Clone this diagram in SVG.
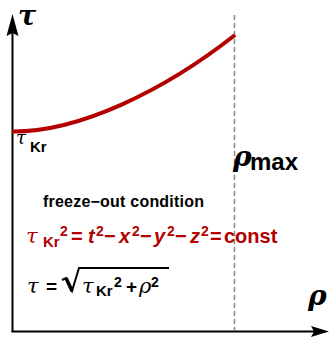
<svg xmlns="http://www.w3.org/2000/svg" width="329" height="338" viewBox="0 0 329 338">
<style>
.ax{stroke:#000;stroke-width:2;fill:none}
.dash{stroke:#888;stroke-width:1.5;stroke-dasharray:5,3;fill:none}
.curve{stroke:#b30000;stroke-width:4;fill:none}
.gk{font-family:"DejaVu Serif","Liberation Serif",serif;font-style:italic}
.sans{font-family:"Liberation Sans",Arial,sans-serif;font-weight:bold}
.red{fill:#b30000}
</style>
<rect width="329" height="338" fill="#fff"/>
<g id="connectors">
<line class="ax" x1="12.5" y1="332" x2="12.5" y2="30"/>
<polygon points="12.5,14 18.5,36 12.5,33 6.5,36" fill="#000"/>
<line class="ax" x1="11.5" y1="331.5" x2="315" y2="331.5"/>
<polygon points="329,331.5 311,337 314,331.5 311,326" fill="#000"/>
<line class="dash" x1="234.5" y1="15" x2="234.5" y2="331"/>
<path class="curve" d="M12,131.5 C80,132 165,90 235,35"/>
</g>
<g id="axis-tau"><text class="gk" x="18" y="25" font-size="27" font-weight="bold">τ</text></g>
<g id="axis-rho"><text class="gk" x="308" y="305" font-size="28" font-weight="bold">ρ</text></g>
<g id="tau-kr"><text class="gk" x="16" y="144" font-size="18">τ</text><text class="sans" font-size="15" x="30" y="152">Kr</text></g>
<g id="rho-max"><text class="gk" x="233" y="166" font-size="28" font-weight="bold">ρ</text><text class="sans" font-size="24" x="250" y="170">max</text></g>
<g id="freeze"><text class="sans" x="43" y="207" font-size="16" textLength="161">freeze−out condition</text></g>
<g id="eq1" class="red">
<text class="gk" x="26" y="243" font-size="21">τ</text>
<text class="sans" font-size="20" y="243"><tspan x="43" y="247" font-size="15">Kr</tspan><tspan x="60" y="236" font-size="14">2</tspan><tspan x="71" y="243">=</tspan><tspan x="88" font-style="italic">t</tspan><tspan x="96" y="236" font-size="14">2</tspan><tspan x="104" y="243">−</tspan><tspan x="119" font-style="italic">x</tspan><tspan x="132" y="236" font-size="14">2</tspan><tspan x="140" y="243">−</tspan><tspan x="154" font-style="italic">y</tspan><tspan x="167" y="236" font-size="14">2</tspan><tspan x="175" y="243">−</tspan><tspan x="190" font-style="italic">z</tspan><tspan x="201" y="236" font-size="14">2</tspan><tspan x="210" y="243">=</tspan><tspan x="224">const</tspan></text>
</g>
<g id="eq2">
<text class="gk" x="27" y="293" font-size="21">τ</text>
<text class="sans" x="46" y="293" font-size="19">=</text>
<path d="M62,280 L66,278 L72,291 L79,268 L169,268" stroke="#000" stroke-width="2" fill="none"/>
<path d="M66,278 L72,291" stroke="#000" stroke-width="3.5" fill="none"/>
<text class="gk" x="82" y="293" font-size="21">τ</text>
<text class="sans" font-size="19" y="293"><tspan x="96" y="296" font-size="15">Kr</tspan><tspan x="114" y="287" font-size="14">2</tspan><tspan x="126" y="293">+</tspan></text>
<text class="gk" x="139" y="293" font-size="21">ρ</text>
<text class="sans" x="151" y="287" font-size="14">2</text>
</g>
</svg>
